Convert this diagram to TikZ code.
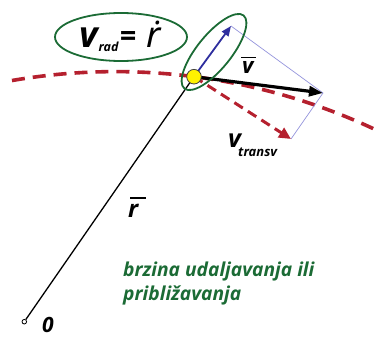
\documentclass[tikz,border=0pt]{standalone}
\usepackage{fontspec}
\setmainfont{Open Sans}
\newfontfamily\notosans{Noto Sans}
\usetikzlibrary{arrows.meta,shapes.geometric}
\definecolor{dred}{HTML}{B5202E}
\definecolor{dgreen}{HTML}{1B6B35}
\definecolor{navyblue}{HTML}{2E2E9E}
\definecolor{lblue}{HTML}{9494DC}
\newcommand{\bisz}[1]{\fontsize{#1}{#1}\selectfont\bfseries\itshape}
\begin{document}
\begin{tikzpicture}[x=1pt,y=-1pt,
  greenell/.style={draw=dgreen, line width=1.8pt, ellipse, inner sep=0pt},
  lbl/.style={inner sep=0pt, anchor=base west}]
\useasboundingbox (0,0) rectangle (377,340);
% orbit
\draw[dred, line width=3.6pt, dash pattern=on 13pt off 8pt]
  plot[domain=99.8:64.6, samples=80, smooth] ({115.8+610*cos(\x)},{681.6-610*sin(\x)});
% points
\coordinate (A) at (231,26);
\coordinate (B) at (323,93);
\coordinate (T) at (291,139);
\node[circle, draw=black, fill=white, line width=0.8pt, minimum size=4.6pt, inner sep=0pt] (O) at (24.3,321.7) {};
% thin blue parallelogram sides
\draw[lblue, line width=0.7pt] (A) -- (B) -- (T);
% radius vector
\node[circle, minimum size=14.6pt, inner sep=0pt] (P) at (194,76.7) {};
\draw[black, line width=1.3pt] (O) -- (P.center);
% velocity components
\draw[navyblue, line width=1.8pt, -{Triangle[length=10pt,width=8pt]}] (P.center) -- (A);
\draw[dred, line width=3pt, dash pattern=on 10pt off 6pt, -{Triangle[length=12pt,width=11pt]}] (P.center) -- (T);
\draw[black, line width=3.2pt, -{Triangle[length=14pt,width=10pt]}] (P.center) -- (B);
\node[circle, fill=yellow, draw=black!75, line width=0.8pt, minimum size=14.6pt, inner sep=0pt] (Pdot) at (P) {};
% ellipses
\node[greenell, minimum width=132pt, minimum height=48pt] (E1) at (121,37) {};
\node[greenell, minimum width=94pt, minimum height=34pt, rotate=51] (E2) at (214,52) {};
% labels
\node[lbl, font=\bisz{36}] (vv) at (79,47) {v};
\node[lbl, font=\bisz{12.5}] (rad) at (98.5,51) {rad};
\node[lbl, font=\bisz{30}] (eq) at (119.5,46) {=};
\node[lbl, font={\notosans\bisz{36}}] (rdot) at (146,47) {ṙ};
\node[lbl, font=\bisz{22}] (vbar) at (241,73) {\rlap{\rule[15pt]{15pt}{1.2pt}}\kern1pt v};
\node[lbl, font=\bisz{25}] (vt) at (228,147) {v};
\node[lbl, font=\bisz{13}] (transv) at (238,156) {transv};
\node[lbl, font=\bisz{24}] (rbar) at (128,217) {\rlap{\kern2pt\rule[18.5pt]{16pt}{1.3pt}}r};
\node[lbl, font=\bisz{21}] (zero) at (42,332) {0};
\node[lbl, font=\bisz{19.2}, text=dgreen] (txt1) at (123,276) {brzina udaljavanja ili};
\node[lbl, font=\bisz{19.2}, text=dgreen] (txt2) at (123,300) {približavanja};
\end{tikzpicture}
\end{document}
